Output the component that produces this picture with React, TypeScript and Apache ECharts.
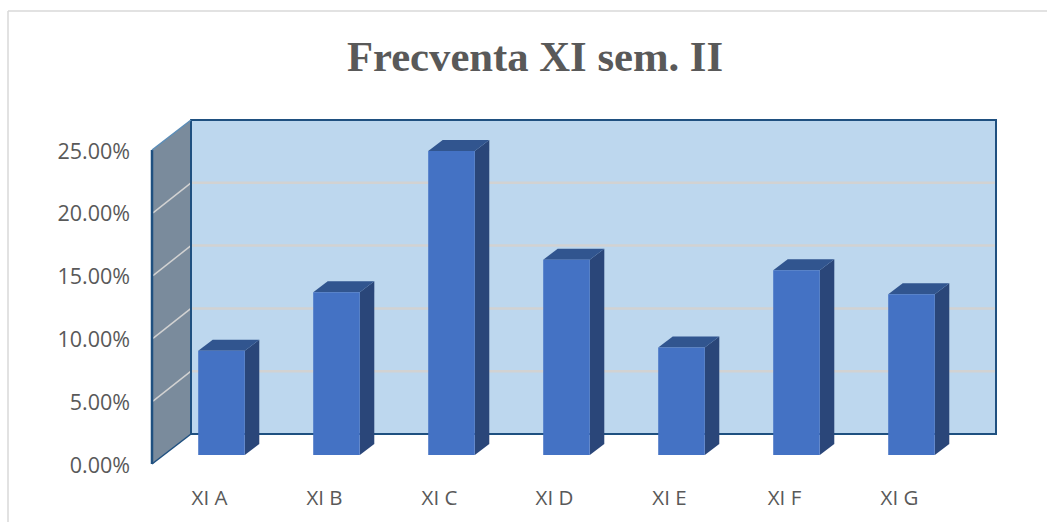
import React, { useEffect, useRef } from "react";
import * as echarts from "echarts";

const titleText = "Frecventa XI sem. II";
const categories = ["XI A", "XI B", "XI C", "XI D", "XI E", "XI F", "XI G"];
const frecventa = [8.3, 12.95, 24.2, 15.55, 8.55, 14.7, 12.8];
const gridTicks = [5, 10, 15, 20];
const axisMax = 25;
const axisStep = 5;

const WALL_DX = 39;
const WALL_DY = -30;
const BAR_SHIFT_X = 12;
const BAR_SHIFT_Y = -9;
const BAR_DX = 14.5;
const BAR_DY = -11;
const BAR_RATIO = 0.405;

const renderWalls = (params: any, api: any) => {
  const cs = params.coordSys;
  const x0 = cs.x;
  const x1 = cs.x + cs.width;
  const y0 = cs.y + cs.height;
  const y1 = cs.y;
  const edge = "#1F5080";
  const grid = "#D2D2D2";
  const children: any[] = [
    {
      type: "rect",
      shape: { x: x0 + WALL_DX, y: y1 + WALL_DY, width: x1 - x0, height: y0 - y1 },
      style: { fill: "#BDD7EE" },
    },
    {
      type: "polygon",
      shape: {
        points: [
          [x0, y0],
          [x0, y1],
          [x0 + WALL_DX, y1 + WALL_DY],
          [x0 + WALL_DX, y0 + WALL_DY],
        ],
      },
      style: { fill: "#7A8B9C" },
    },
  ];
  gridTicks.forEach((t) => {
    const y = api.coord([0, t])[1];
    children.push({
      type: "line",
      shape: { x1: x0 + WALL_DX, y1: y + WALL_DY, x2: x1 + WALL_DX - 1, y2: y + WALL_DY },
      style: { stroke: grid, lineWidth: 2.5 },
    });
    children.push({
      type: "line",
      shape: { x1: x0 + 1, y1: y, x2: x0 + WALL_DX, y2: y + WALL_DY },
      style: { stroke: grid, lineWidth: 1.5 },
    });
  });
  children.push(
    {
      type: "rect",
      shape: { x: x0 + WALL_DX, y: y1 + WALL_DY, width: x1 - x0, height: y0 - y1 },
      style: { fill: "none", stroke: edge, lineWidth: 2 },
    },
    { type: "line", shape: { x1: x0, y1: y0, x2: x0, y2: y1 }, style: { stroke: edge, lineWidth: 2.5 } },
    { type: "line", shape: { x1: x0, y1: y0, x2: x0 + WALL_DX, y2: y0 + WALL_DY }, style: { stroke: edge, lineWidth: 1.5 } },
    { type: "line", shape: { x1: x0, y1: y1, x2: x0 + WALL_DX, y2: y1 + WALL_DY }, style: { stroke: "#5B8DB8", lineWidth: 1.5 } }
  );
  return { type: "group", children };
};

const renderBar = (_params: any, api: any) => {
  const [cx, top] = api.coord([api.value(0), api.value(1)]);
  const base = api.coord([api.value(0), 0])[1];
  const w = api.size([1, 0])[0] * BAR_RATIO;
  const l = cx + BAR_SHIFT_X - w / 2;
  const r = l + w;
  const b = base + BAR_SHIFT_Y;
  const t = top + BAR_SHIFT_Y;
  return {
    type: "group",
    children: [
      {
        type: "polygon",
        shape: { points: [[r, t], [r + BAR_DX, t + BAR_DY], [r + BAR_DX, b + BAR_DY], [r, b]] },
        style: { fill: "#2A4679" },
      },
      {
        type: "polygon",
        shape: { points: [[l, t], [l + BAR_DX, t + BAR_DY], [r + BAR_DX, t + BAR_DY], [r, t]] },
        style: { fill: "#31558F" },
      },
      {
        type: "rect",
        shape: { x: l, y: t, width: w, height: b - t },
        style: { fill: "#4472C4" },
      },
    ],
  };
};

export default function App() {
  const ref = useRef<HTMLDivElement>(null);
  useEffect(() => {
    const chart = echarts.init(ref.current!, undefined, { renderer: "svg" });
    chart.setOption({
      animation: false,
      backgroundColor: "#ffffff",
      title: {
        text: titleText,
        left: 530,
        top: 30,
        textAlign: "center",
        textStyle: {
          fontFamily: "Liberation Serif",
          fontWeight: "bold",
          fontSize: 42.7,
          color: "#595959",
        },
      },
      graphic: [
        { type: "line", shape: { x1: 8, y1: 11, x2: 1047, y2: 11 }, style: { stroke: "#D9D9D9", lineWidth: 1.5 } },
        { type: "line", shape: { x1: 8, y1: 11, x2: 8, y2: 522 }, style: { stroke: "#D9D9D9", lineWidth: 1.5 } },
      ],
      grid: { left: 152, top: 150, width: 805, height: 314, containLabel: false },
      xAxis: {
        type: "category",
        data: categories,
        axisLine: { show: false },
        axisTick: { show: false },
        axisLabel: { margin: 22, fontFamily: "Open Sans", fontSize: 20.5, color: "#595959" },
      },
      yAxis: {
        type: "value",
        min: 0,
        max: axisMax,
        interval: axisStep,
        axisLine: { show: false },
        axisTick: { show: false },
        splitLine: { show: false },
        axisLabel: {
          margin: 22,
          fontFamily: "Open Sans",
          fontSize: 21.5,
          padding: [2, 0, 0, 0],
          color: "#595959",
          formatter: (v: number) => v.toFixed(2) + "%",
        },
      },
      series: [
        { type: "custom", silent: true, z: 1, data: [[0, 0]], renderItem: renderWalls },
        {
          type: "custom",
          name: "Frecventa",
          z: 2,
          data: frecventa.map((v, i) => [i, v]),
          encode: { x: 0, y: 1 },
          renderItem: renderBar,
        },
      ],
    });
    return () => chart.dispose();
  }, []);
  return <div ref={ref} style={{ position: "absolute", left: 0, top: 0, width: 1047, height: 522 }} />;
}
